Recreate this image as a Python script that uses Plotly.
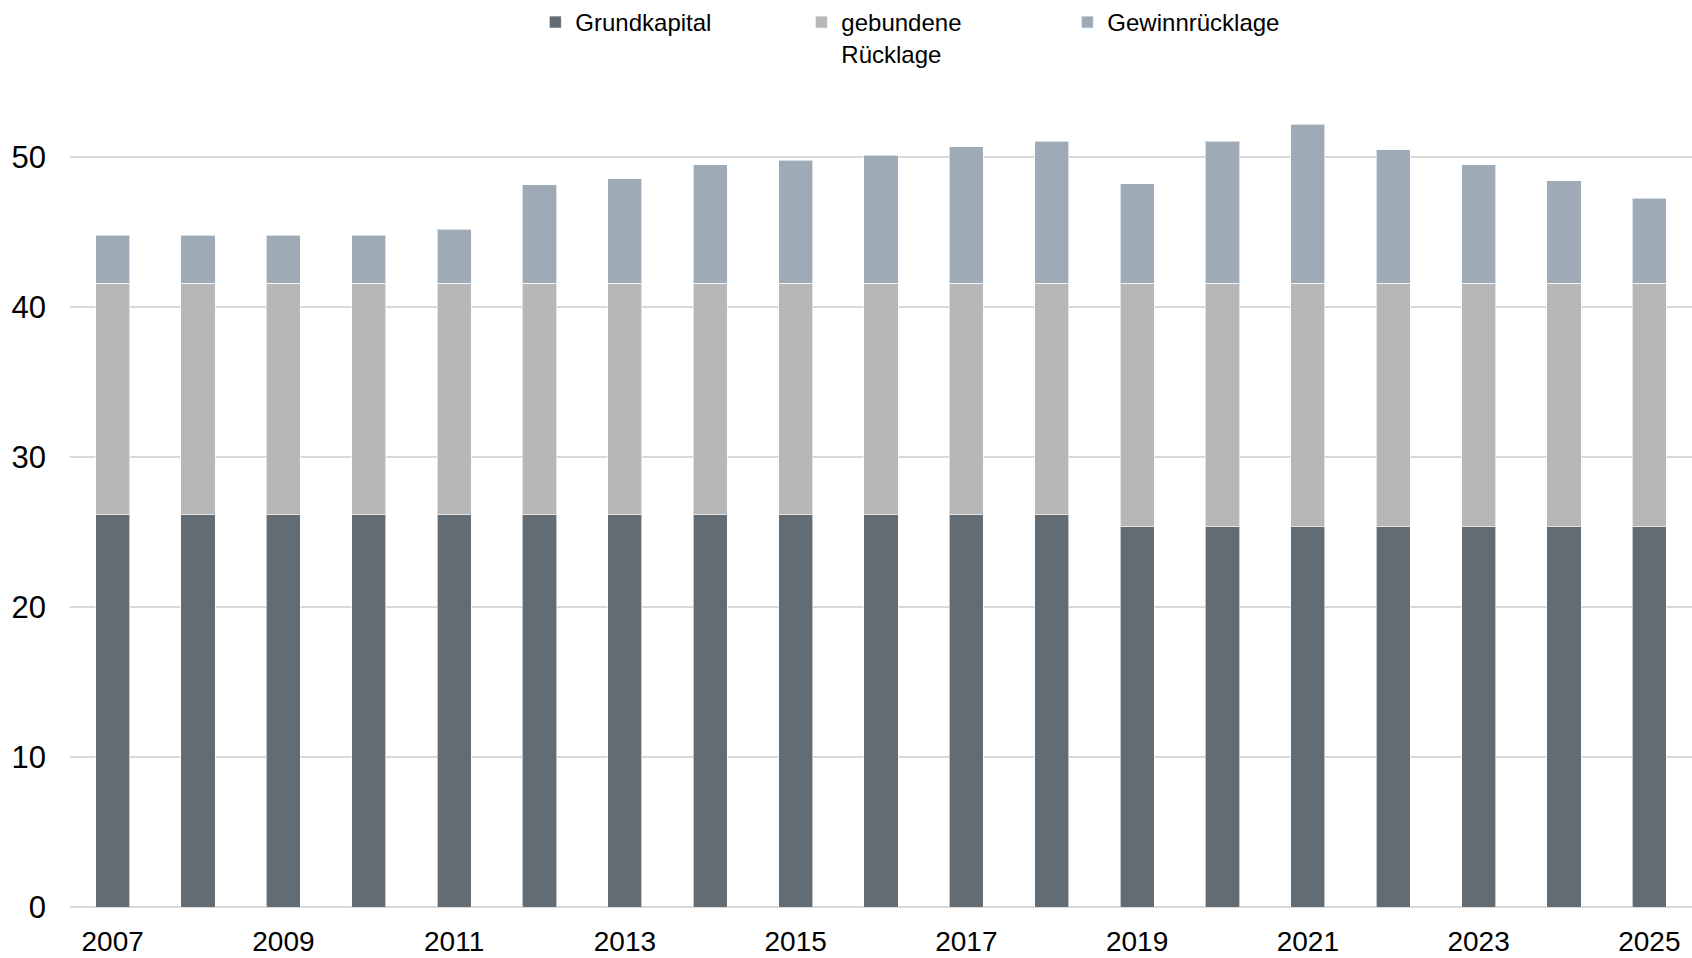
import plotly.graph_objects as go

years = [str(y) for y in range(2007, 2026)]

grundkapital = [26.15, 26.15, 26.15, 26.15, 26.15, 26.15, 26.15, 26.15, 26.15, 26.15,
                26.15, 26.15, 25.35, 25.35, 25.35, 25.35, 25.35, 25.35, 25.35]
gebundene = [15.45, 15.45, 15.45, 15.45, 15.45, 15.45, 15.45, 15.45, 15.45, 15.45,
             15.45, 15.45, 16.25, 16.25, 16.25, 16.25, 16.25, 16.25, 16.25]
gewinn = [3.17, 3.17, 3.17, 3.17, 3.58, 6.56, 6.95, 7.89, 8.17, 8.53,
          9.09, 9.44, 6.61, 9.46, 10.6, 8.9, 7.89, 6.81, 5.65]

x_ticks = years[::2]
y_ticks = [0, 10, 20, 30, 40, 50]

font = "Liberation Sans, Arial, sans-serif"
edge = dict(color="rgba(255,255,255,0.6)", width=1)

fig = go.Figure()
fig.add_trace(go.Bar(x=years, y=grundkapital, name="Grundkapital",
                     marker=dict(color="#636B73", line=edge)))
fig.add_trace(go.Bar(x=years, y=gebundene, name="gebundene<br>Rücklage",
                     marker=dict(color="#B7B7B7", line=edge)))
fig.add_trace(go.Bar(x=years, y=gewinn, name="Gewinnrücklage",
                     marker=dict(color="#9EABB7", line=edge)))

fig.update_layout(
    barmode="stack",
    bargap=0.6,
    width=1692, height=958,
    margin=dict(l=70, r=0, t=79, b=51),
    paper_bgcolor="white", plot_bgcolor="white",
    font=dict(family=font, size=28, color="black"),
    # legend sits right at the top edge (plotly clamps it to the figure)
    legend=dict(orientation="h", x=0.2869, xanchor="left", y=1.1, yanchor="top",
                font=dict(size=24), entrywidth=221, itemwidth=30,
                traceorder="normal", valign="top", bgcolor="rgba(0,0,0,0)"),
    showlegend=True,
)
fig.update_xaxes(type="category", tickmode="array", tickvals=x_ticks, ticktext=x_ticks,
                 showgrid=False, showline=False, ticks="", ticklabelstandoff=15,
                 automargin=False)
fig.update_yaxes(range=[0, 55], tickmode="array", tickvals=y_ticks,
                 tickfont=dict(size=31),
                 showgrid=True, gridcolor="#D9D9D9", gridwidth=1.5,
                 zeroline=True, zerolinecolor="#D9D9D9", zerolinewidth=2,
                 showline=False, ticks="", ticklabelstandoff=23, automargin=False)

# drop the browser's default 8px body margin so the figure fills the window
fig.write_html("out.html", config={"displayModeBar": False},
               post_script="document.body.style.margin='0';")
